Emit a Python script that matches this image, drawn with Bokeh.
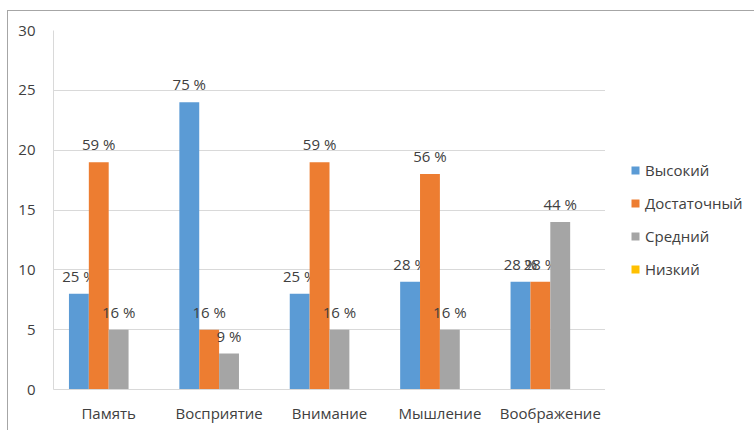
from bokeh.plotting import figure
from bokeh.models import ColumnDataSource, Legend, LegendItem, FactorRange
from bokeh.layouts import row
from bokeh.transform import dodge
from bokeh.core.properties import value
from bokeh.embed import file_html
from bokeh.resources import INLINE

categories = ["Память", "Восприятие", "Внимание", "Мышление", "Воображение"]
series_names = ["Высокий", "Достаточный", "Средний", "Низкий"]
vysokiy = [8, 24, 8, 9, 9]
dostatochny = [19, 5, 19, 18, 9]
sredniy = [5, 3, 5, 5, 14]
nizkiy = [0, 0, 0, 0, 0]
lbl_vysokiy = ["25 %", "75 %", "25 %", "28 %", "28 %"]
lbl_dostatochny = ["59 %", "16 %", "59 %", "56 %", "28 %"]
lbl_sredniy = ["16 %", "9 %", "16 %", "16 %", "44 %"]
lbl_nizkiy = ["", "", "", "", ""]
y_ticks = [0, 5, 10, 15, 20, 25, 30]

colors = ["#5b9bd5", "#ed7d31", "#a5a5a5", "#ffc000"]
FONT = "Open Sans"
TXT = "#404040"

src = ColumnDataSource(dict(
    cat=categories,
    v0=vysokiy, v1=dostatochny, v2=sredniy, v3=nizkiy,
    l0=lbl_vysokiy, l1=lbl_dostatochny, l2=lbl_sredniy, l3=lbl_nizkiy,
))

p = figure(width=597, height=419, x_range=FactorRange(*categories), y_range=(0, 30),
           output_backend="svg", toolbar_location=None,
           min_border_left=45, min_border_top=19, min_border_right=0, min_border_bottom=41)
p.x_range.range_padding = 0
p.outline_line_color = None

offsets = [-0.27, -0.09, 0.09, 0.27]
for i, (off, col) in enumerate(zip(offsets, colors)):
    p.vbar(x=dodge("cat", off, range=p.x_range), top="v%d" % i, width=0.18,
           source=src, fill_color=col, line_color=None)
    p.text(x=dodge("cat", off, range=p.x_range), y="v%d" % i, text="l%d" % i, source=src,
           text_align="center", text_baseline="middle", y_offset=-18,
           text_font=value(FONT), text_font_size="15px", text_color=TXT)

p.yaxis.ticker = y_ticks
p.xgrid.grid_line_color = None
p.ygrid.grid_line_color = "#d9d9d9"
for ax in (p.xaxis[0], p.yaxis[0]):
    ax.axis_line_color = "#d9d9d9"
    ax.major_tick_line_color = None
    ax.minor_tick_line_color = None
    ax.major_label_text_font = FONT
    ax.major_label_text_font_size = "15px"
    ax.major_label_text_color = TXT
p.yaxis.major_label_standoff = 12
p.xaxis.major_label_standoff = 7

# legend panel
lg = figure(width=149, height=419, x_range=(0, 1), y_range=(0, 1),
            output_backend="svg", toolbar_location=None,
            min_border_left=0, min_border_right=0, min_border_top=0, min_border_bottom=0)
lg.axis.visible = False
lg.grid.visible = False
lg.outline_line_color = None
dummy = ColumnDataSource(dict(x=[-10.0], top=[0.0]))
items = []
for name, col in zip(series_names, colors):
    r = lg.vbar(x="x", top="top", width=0.1, source=dummy, fill_color=col, line_color=None)
    items.append(LegendItem(label=name, renderers=[r]))
legend = Legend(items=items, location=(25, 110), orientation="vertical",
                glyph_width=10, glyph_height=10, label_height=20, spacing=13,
                label_standoff=5, padding=0, margin=0, border_line_color=None,
                background_fill_alpha=0,
                label_text_font=FONT, label_text_font_size="15px", label_text_color=TXT)
lg.add_layout(legend, "center")

layout = row(p, lg, spacing=0)
layout.styles = {"margin-left": "7px", "margin-top": "10px",
                 "border-left": "1px solid #a6a6a6", "border-top": "1px solid #a6a6a6"}

open("out.html", "w").write(file_html(layout, INLINE))
